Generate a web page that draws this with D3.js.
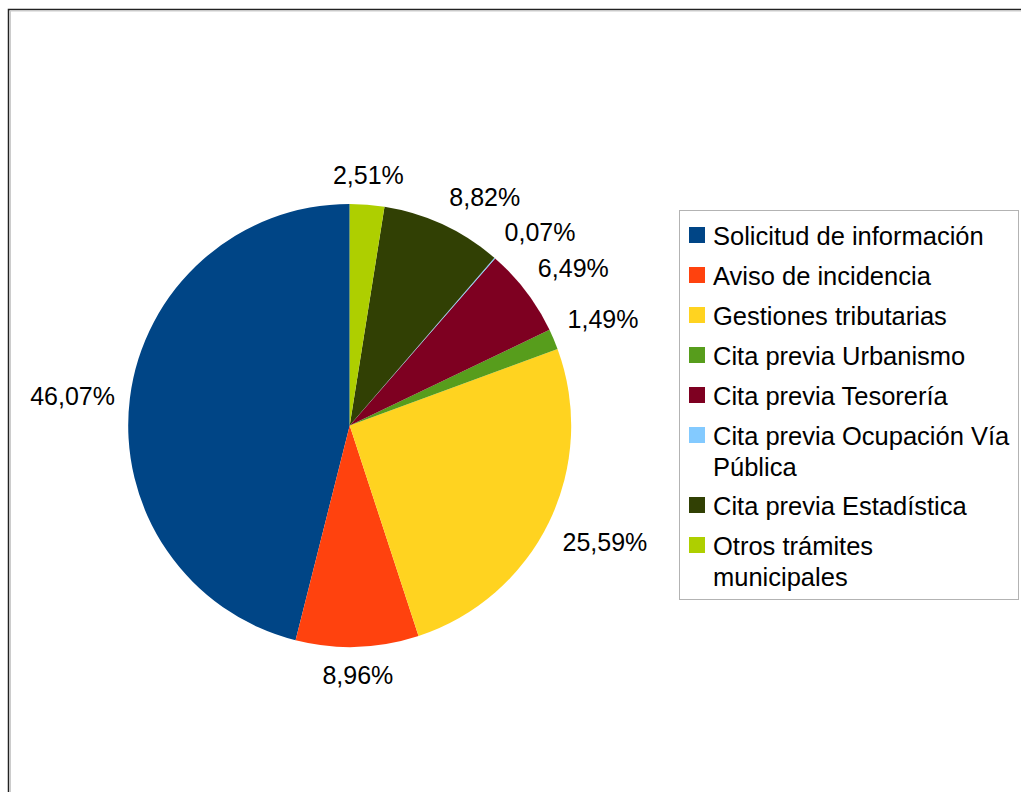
<!DOCTYPE html>
<html>
<head>
<meta charset="utf-8">
<script src="https://cdn.jsdelivr.net/npm/d3@7"></script>
<style>
  html, body { margin: 0; padding: 0; background: #fff; }
  svg { display: block; }
  text { font-family: "Liberation Sans", Arial, sans-serif; fill: #000; }
</style>
</head>
<body>
<svg id="chart" width="1021" height="792"></svg>
<script>
const categories = [
  "Solicitud de información",
  "Aviso de incidencia",
  "Gestiones tributarias",
  "Cita previa Urbanismo",
  "Cita previa Tesorería",
  "Cita previa Ocupación Vía Pública",
  "Cita previa Estadística",
  "Otros trámites municipales"
];
const values = [46.07, 8.96, 25.59, 1.49, 6.49, 0.07, 8.82, 2.51];
const colors = ["#004586", "#ff420e", "#ffd320", "#579d1c", "#7e0021", "#83caff", "#314004", "#aecf00"];

const svg = d3.select("#chart");

// outer frame
svg.append("rect").attr("x", 8.5).attr("y", 9.5).attr("width", 1200).attr("height", 1000)
  .attr("fill", "none").attr("stroke", "#222").attr("stroke-width", 1.5);
svg.append("rect").attr("x", 10.5).attr("y", 11).attr("width", 1200).attr("height", 1000)
  .attr("fill", "none").attr("stroke", "#ccc").attr("stroke-width", 1);

const cx = 349.7, cy = 425.5, r = 221.5;
const data = categories.map((c, i) => ({ name: c, value: values[i], color: colors[i] }));

const pie = d3.pie().value(d => d.value).sort(null).startAngle(0).endAngle(-2 * Math.PI);
const arcs = pie(data);
const arc = d3.arc().innerRadius(0).outerRadius(r);

const g = svg.append("g").attr("transform", `translate(${cx},${cy})`);
g.selectAll("path.slice").data(arcs).enter().append("path")
  .attr("class", "slice")
  .attr("d", arc)
  .attr("fill", d => d.data.color);

// labels
const fmt = v => v.toFixed(2).replace(".", ",") + "%";
const labelFont = 25;
const asc = 0.905 * labelFont, desc = 0.212 * labelFont;
const R2 = r + 15;
arcs.forEach(a => {
  const mid = (a.startAngle + a.endAngle) / 2;
  let deg = (mid * 180 / Math.PI) % 360;
  if (deg < 0) deg += 360;
  const px = Math.sin(mid) * R2, py = -Math.cos(mid) * R2;
  const oct = Math.floor(((deg + 22.5) % 360) / 45); // 0 top,1 top-right,2 right,...
  let anchor = "middle", base;
  const hx = [0, 1, 1, 1, 0, -1, -1, -1][oct];
  const vy = [-1, -1, 0, 1, 1, 1, 0, -1][oct];
  anchor = hx === 0 ? "middle" : (hx > 0 ? "start" : "end");
  if (vy < 0) base = py - desc;
  else if (vy > 0) base = py + asc;
  else base = py + (asc - desc) / 2;
  g.append("text")
    .attr("x", px).attr("y", base)
    .attr("text-anchor", anchor)
    .attr("font-size", labelFont)
    .text(fmt(a.data.value));
});

// legend
const legX = 679.5, legY = 210.5, legW = 339, legH = 389;
svg.append("rect").attr("x", legX).attr("y", legY).attr("width", legW).attr("height", legH)
  .attr("fill", "#fff").attr("stroke", "#b3b3b3").attr("stroke-width", 1);

const legFont = 25.5, lineH = 30.7, itemGap = 40, maxTextW = 299;
let y0 = 227;
const lg = svg.append("g");
data.forEach(d => {
  lg.append("rect").attr("x", 689).attr("y", y0).attr("width", 16).attr("height", 16).attr("fill", d.color);
  const t = lg.append("text").attr("x", 713).attr("y", y0 + 18).attr("font-size", legFont);
  // word wrap
  const words = d.name.split(" ");
  let line = [], lines = 0;
  let ts = t.append("tspan").attr("x", 713).attr("dy", 0);
  words.forEach(w => {
    line.push(w);
    ts.text(line.join(" "));
    if (ts.node().getComputedTextLength() > maxTextW && line.length > 1) {
      line.pop();
      ts.text(line.join(" "));
      line = [w];
      lines++;
      ts = t.append("tspan").attr("x", 713).attr("dy", lineH).text(w);
    }
  });
  y0 += itemGap + lines * (lineH - 0.7);
});
</script>
</body>
</html>
